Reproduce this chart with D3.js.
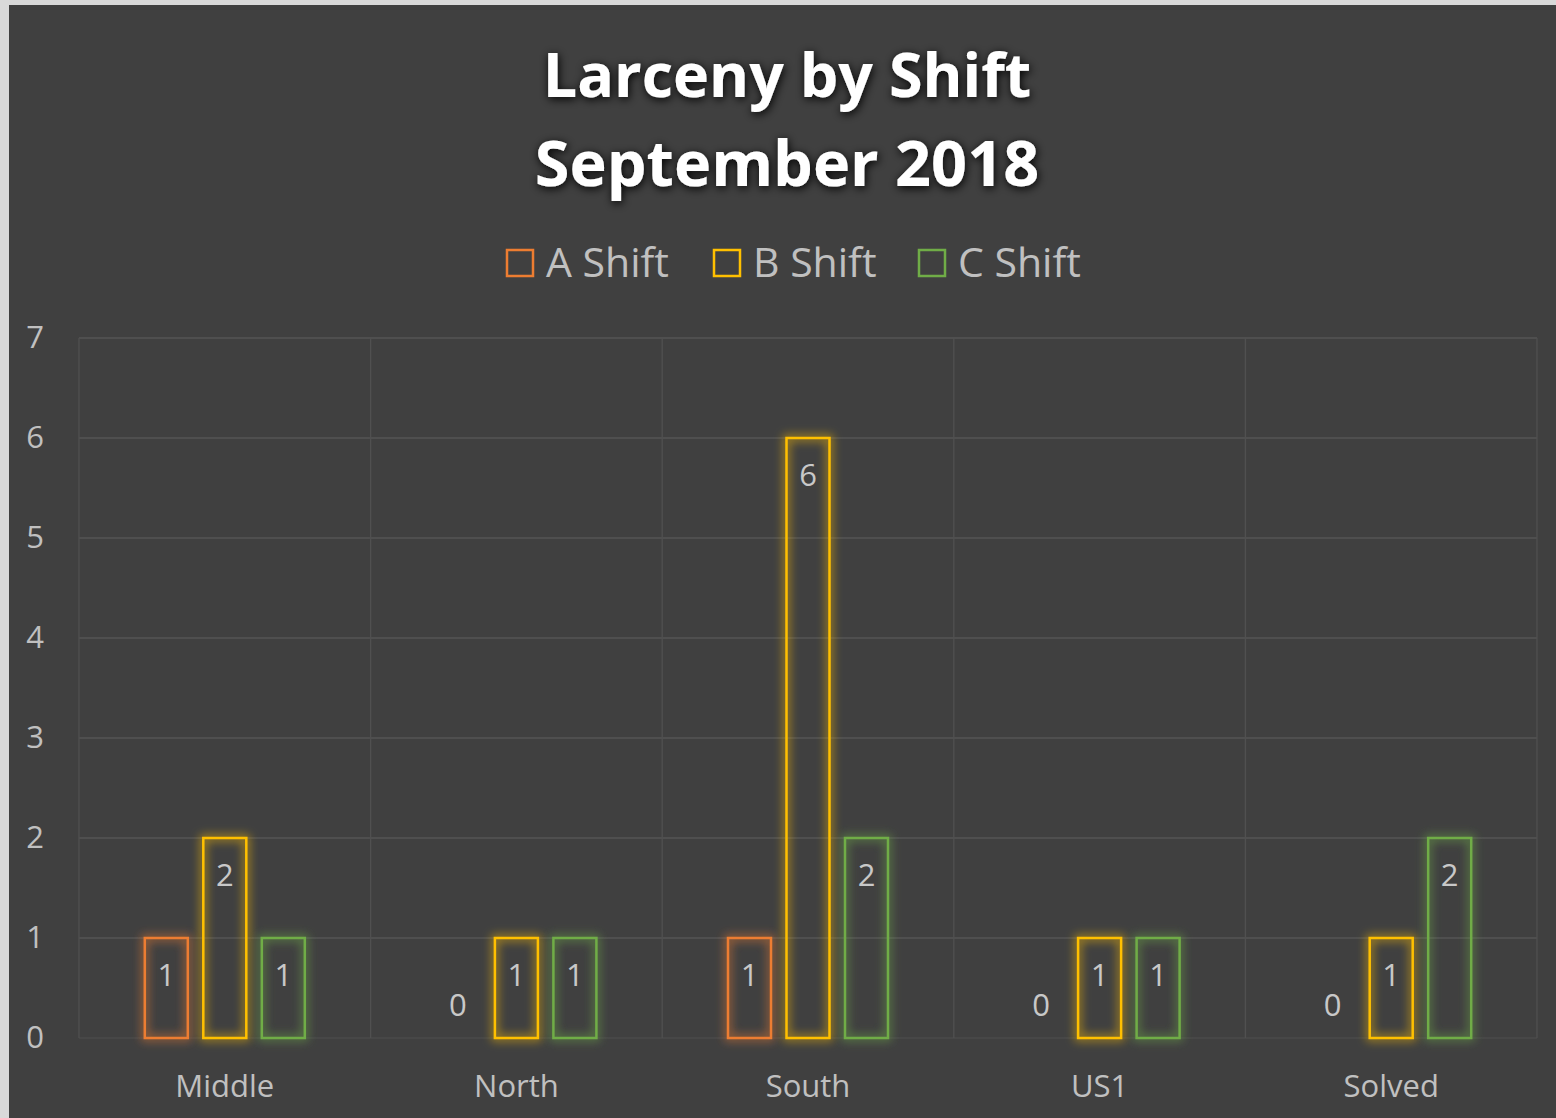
<!DOCTYPE html>
<html>
<head>
<meta charset="utf-8">
<script src="https://cdn.jsdelivr.net/npm/d3@7"></script>
<style>
  body { margin: 0; background: #d9d9d9; }
  svg { display: block; }
</style>
</head>
<body>
<script>
const width = 1556;
const height = 1118;

// data
const categories = ["Middle", "North", "South", "US1", "Solved"];
const seriesNames = ["A Shift", "B Shift", "C Shift"];
const aShift = [1, 0, 1, 0, 0];
const bShift = [2, 1, 6, 1, 1];
const cShift = [1, 1, 2, 1, 2];
const yTicks = [0, 1, 2, 3, 4, 5, 6, 7];
const colors = ["#ED7D31", "#FFC000", "#70AD47"];

const series = [aShift, bShift, cShift];
const font = "'Open Sans', sans-serif";

const margin = {top: 338, left: 79, right: 19, bottom: 80};

const svg = d3.select(document.body).append("svg")
    .attr("width", width)
    .attr("height", height);

// glow filters
const defs = svg.append("defs");
colors.forEach((c, i) => {
    const f = defs.append("filter").attr("id", "glow" + i)
        .attr("x", "-50%").attr("y", "-50%").attr("width", "200%").attr("height", "200%");
    f.append("feMorphology").attr("in", "SourceGraphic").attr("operator", "dilate").attr("radius", 2).attr("result", "d");
    f.append("feGaussianBlur").attr("in", "d").attr("stdDeviation", 5).attr("result", "b");
    f.append("feComponentTransfer").attr("in", "b").attr("result", "bb")
      .append("feFuncA").attr("type", "linear").attr("slope", 0.55);
    const m = f.append("feMerge");
    m.append("feMergeNode").attr("in", "bb");
    m.append("feMergeNode").attr("in", "SourceGraphic");
});
const ts = defs.append("filter").attr("id", "tshadow")
    .attr("x", "-20%").attr("y", "-50%").attr("width", "140%").attr("height", "200%");
ts.append("feGaussianBlur").attr("in", "SourceAlpha").attr("stdDeviation", 5).attr("result", "b");
ts.append("feOffset").attr("in", "b").attr("dx", 1).attr("dy", 2).attr("result", "o");
ts.append("feComponentTransfer").attr("in", "o").attr("result", "s")
  .append("feFuncA").attr("type", "linear").attr("slope", 1);
const tm = ts.append("feMerge");
tm.append("feMergeNode").attr("in", "s");
tm.append("feMergeNode").attr("in", "SourceGraphic");

// background
svg.append("rect")
    .attr("x", 9).attr("y", 5)
    .attr("width", width - 9).attr("height", height - 5)
    .attr("fill", "#404040");

const x0 = d3.scaleBand()
    .domain(categories)
    .range([margin.left, width - margin.right])
    .padding(0);

const x1 = d3.scaleBand()
    .domain(seriesNames)
    .range([0, 160])
    .paddingInner(0.265);

const y = d3.scaleLinear()
    .domain([0, 7])
    .range([height - margin.bottom, margin.top]);

// gridlines
const grid = svg.append("g").attr("stroke-width", 1.3);
grid.selectAll("line.h")
    .data(yTicks)
    .join("line")
    .attr("class", "h")
    .attr("x1", margin.left).attr("x2", width - margin.right)
    .attr("y1", d => y(d)).attr("y2", d => y(d))
    .attr("stroke", d => d === 0 ? "#4a4a4a" : "#555555");
grid.selectAll("line.v")
    .data(categories.concat(["_end"]))
    .join("line")
    .attr("class", "v")
    .attr("x1", (d, i) => margin.left + i * x0.step())
    .attr("x2", (d, i) => margin.left + i * x0.step())
    .attr("y1", y(7)).attr("y2", y(0))
    .attr("stroke", "#505050");

// y axis labels
const yAxis = svg.append("g")
    .attr("transform", `translate(${margin.left},0)`)
    .call(d3.axisLeft(y).tickValues(yTicks).tickSize(0).tickPadding(35).tickFormat(d3.format("d")));
yAxis.select(".domain").remove();
yAxis.selectAll("text")
    .attr("fill", "#c0c0c0")
    .style("font-family", font)
    .style("font-size", "31px");

// x axis labels
const xAxis = svg.append("g")
    .attr("transform", `translate(0,${y(0)})`)
    .call(d3.axisBottom(x0).tickSize(0).tickPadding(37));
xAxis.select(".domain").remove();
xAxis.selectAll("text")
    .attr("fill", "#c0c0c0")
    .style("font-family", font)
    .style("font-size", "31px");

// bars
const groups = svg.append("g").selectAll("g")
    .data(categories)
    .join("g")
    .attr("transform", d => `translate(${x0(d) + x0.bandwidth() / 2 - 80},0)`);

groups.selectAll("rect")
    .data((d, ci) => series.map((s, si) => ({name: seriesNames[si], si, v: s[ci]})))
    .join("rect")
    .filter(d => d.v > 0)
    .attr("x", d => x1(d.name))
    .attr("y", d => y(d.v))
    .attr("width", x1.bandwidth())
    .attr("height", d => y(0) - y(d.v))
    .attr("fill", "none")
    .attr("stroke", d => colors[d.si])
    .attr("stroke-width", 2.5)
    .attr("filter", d => `url(#glow${d.si})`);

groups.selectAll("text")
    .data((d, ci) => series.map((s, si) => ({name: seriesNames[si], si, v: s[ci]})))
    .join("text")
    .attr("x", d => x1(d.name) + x1.bandwidth() / 2)
    .attr("y", d => d.v > 0 ? y(d.v) + 36 : y(0) - 34)
    .attr("text-anchor", "middle")
    .attr("dominant-baseline", "central")
    .attr("fill", "#c8c8c8")
    .style("font-family", font)
    .style("font-size", "31px")
    .text(d => d.v);

// title
const title = svg.append("g")
    .attr("filter", "url(#tshadow)")
    .attr("fill", "#ffffff")
    .style("font-family", font)
    .style("font-weight", "bold")
    .style("font-size", "61px")
    .attr("text-anchor", "middle");
title.append("text").attr("x", 787).attr("y", 97).text("Larceny by Shift");
title.append("text").attr("x", 787).attr("y", 186).text("September 2018")
    .style("font-size", "63px");

// legend
const legendX = [507, 714, 919];
const legend = svg.append("g").selectAll("g")
    .data(seriesNames)
    .join("g")
    .attr("transform", (d, i) => `translate(${legendX[i]},250)`);
legend.append("rect")
    .attr("width", 26).attr("height", 26)
    .attr("fill", "none")
    .attr("stroke", (d, i) => colors[i])
    .attr("stroke-width", 2.5);
legend.append("text")
    .attr("x", 39).attr("y", 11)
    .attr("dominant-baseline", "central")
    .attr("fill", "#c0c0c0")
    .style("font-family", font)
    .style("font-size", "41px")
    .text(d => d);
</script>
</body>
</html>
